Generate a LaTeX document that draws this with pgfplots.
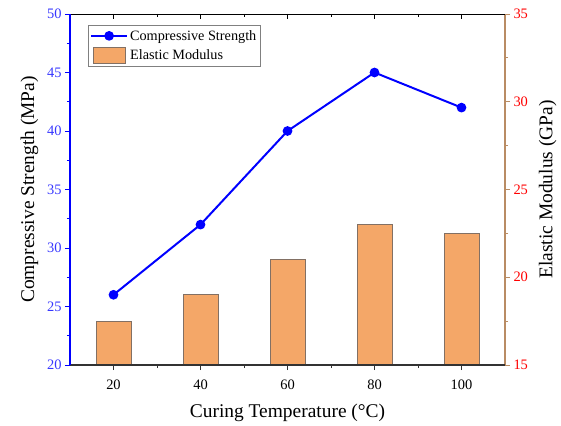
\documentclass[border=0pt]{standalone}
\usepackage{fontspec}
\setmainfont{Liberation Serif}
\newfontfamily\tickfont{Liberation Serif}
\usepackage{pgfplots}
\pgfplotsset{compat=1.18}
\definecolor{lineblue}{RGB}{0,0,255}
\definecolor{tickblue}{RGB}{55,55,255}
\definecolor{rightax}{RGB}{185,140,100}
\definecolor{barfill}{RGB}{244,167,104}
\definecolor{baredge}{RGB}{130,112,100}
\definecolor{botax}{RGB}{50,50,50}
\pgfplotsset{
  common/.style={
    scale only axis, width=435bp, height=351bp,
    at={(0,0)}, anchor=south west,
    xmin=10, xmax=110,
    xtick={20,40,60,80,100}, xticklabels={{\tickfont 20},{\tickfont 40},{\tickfont 60},{\tickfont 80},{\tickfont 100}}, minor x tick num=1,
    tick label style={font=\tickfont\fontsize{14.5}{16}\selectfont},
    label style={font=\rmfamily\fontsize{19.5}{22}\selectfont},
    major tick length=5bp, minor tick length=3bp,
  },
  mylinelegend/.style={legend image code/.code={\draw[##1, mark repeat=2, mark phase=2] plot coordinates {(0bp,0bp) (18bp,0bp) (36bp,0bp)};}},
  mybarlegend/.style={legend image code/.code={\draw[fill=barfill, draw=baredge, line width=0.8pt] (2bp,-8bp) rectangle (34bp,8bp);}},
}
\begin{document}
\begin{tikzpicture}
% bars, right axis
\begin{axis}[common,
  axis x line=none,
  axis y line*=right,
  ymin=15, ymax=35, ytick={15,20,25,30,35},
  yticklabels={{\tickfont 15},{\tickfont 20},{\tickfont 25},{\tickfont 30},{\tickfont 35}}, minor y tick num=1,
  tick align=outside,
  y axis line style={draw=rightax, line width=1.1pt, -},
  y tick style={draw=rightax, line width=0.8pt},
  yticklabel style={text=red},
  ylabel={Elastic Modulus (GPa)},
  ylabel style={yshift=-4bp},
  ]
\addplot[ybar, bar width=8, bar shift=0pt, fill=barfill, draw=baredge, line width=0.8pt]
  coordinates {(20,17.5) (40,19) (60,21) (80,23) (100,22.5)};
\end{axis}
% top border
\begin{axis}[common,
  axis x line*=top,
  hide y axis,
  ymin=20, ymax=50,
  tick align=inside,
  xticklabels={},
  x axis line style={draw=black, line width=0.9pt, -},
  x tick style={draw=black, line width=0.8pt},
  ]
\end{axis}
% line, left axis
\begin{axis}[common,
  axis x line*=bottom,
  axis y line*=left,
  ymin=20, ymax=50, ytick={20,25,30,35,40,45,50},
  yticklabels={{\tickfont 20},{\tickfont 25},{\tickfont 30},{\tickfont 35},{\tickfont 40},{\tickfont 45},{\tickfont 50}}, minor y tick num=1,
  tick align=outside,
  x axis line style={draw=botax, line width=1.3pt, -},
  x tick style={draw=botax, line width=0.8pt},
  y axis line style={draw=lineblue, line width=1.1pt, -},
  y tick style={draw=lineblue, line width=0.8pt},
  yticklabel style={text=tickblue},
  xticklabel style={yshift=-6bp},
  xlabel={Curing Temperature (\textdegree C)},
  ylabel={Compressive Strength (MPa)},
  xlabel style={yshift=-8bp},
  ylabel style={yshift=2bp},
  legend style={at={(0.041,0.969)}, anchor=north west, draw=gray, line width=0.6pt,
    font=\rmfamily\fontsize{14.3}{16}\selectfont, inner xsep=2bp, inner ysep=3bp, row sep=3bp,
    cells={anchor=west}},
  legend cell align=left,
  ]
\addplot[color=lineblue, line width=2pt, mark=*, mark size=3.8bp, mylinelegend]
  coordinates {(20,26) (40,32) (60,40) (80,45) (100,42)};
\addlegendentry{Compressive Strength}
\addlegendimage{mybarlegend}
\addlegendentry{Elastic Modulus}
\end{axis}
\path[use as bounding box] (-70bp,-60bp) rectangle (491bp,365bp);
\end{tikzpicture}
\end{document}
